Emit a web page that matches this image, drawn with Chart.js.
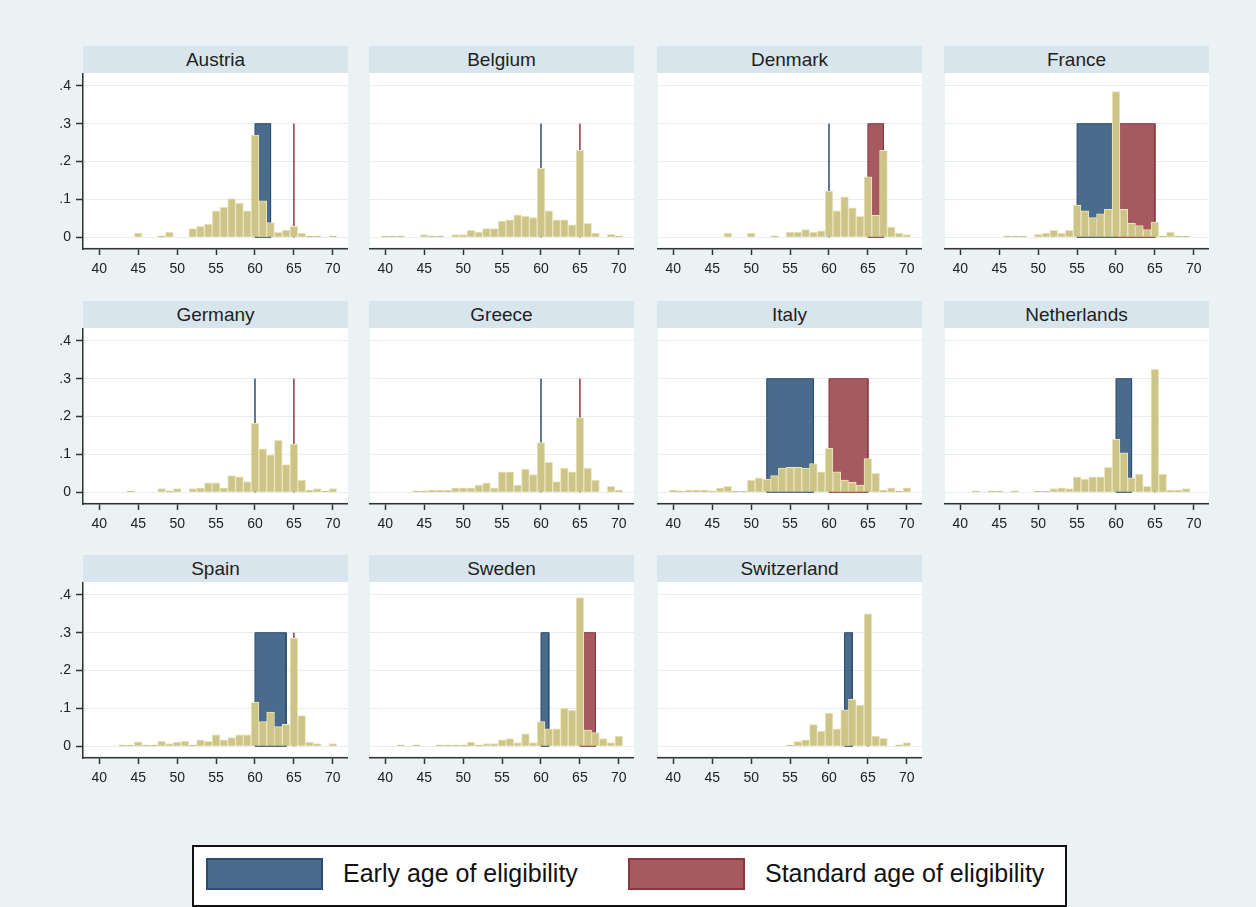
<!DOCTYPE html>
<html lang="en">
<head>
<meta charset="UTF-8">
<title>Retirement age distributions by country</title>
<script src="https://cdn.jsdelivr.net/npm/chart.js"></script>
<style>
  body { margin: 0; background: #ffffff; font-family: "Liberation Sans", Arial, sans-serif; }
  #fig { position: relative; width: 1256px; height: 907px; background: #eaf2f3; overflow: hidden; }
  .strip { position: absolute; width: 265px; height: 27px; line-height: 27px; background: #d9e5ec;
           text-align: center; font-size: 19px; color: #1e1e1e; }
  .panel { position: absolute; }
  #legend { position: absolute; left: 192px; top: 845px; width: 871px; height: 58px; background: #fff;
            border: 2px solid #111; }
  .swatch { position: absolute; top: 11px; width: 113px; height: 28px; border: 2px solid; }
  .ltext { position: absolute; top: 13px; font-size: 25px; line-height: 27px; color: #111; }
</style>
</head>
<body>
<div id="fig">
  <div id="legend">
    <div class="swatch" style="left:12px; background:#4a6b8c; border-color:#2b4d72;"></div>
    <div class="ltext" style="left:149px;">Early age of eligibility</div>
    <div class="swatch" style="left:434px; background:#a55a5f; border-color:#8c3640;"></div>
    <div class="ltext" style="left:571px;">Standard age of eligibility</div>
  </div>
</div>

<script>
// ages on the x axis (one bin per year)
const ages = [40, 41, 42, 43, 44, 45, 46, 47, 48, 49, 50, 51, 52, 53, 54, 55,
              56, 57, 58, 59, 60, 61, 62, 63, 64, 65, 66, 67, 68, 69, 70];
const xTicks = [40, 45, 50, 55, 60, 65, 70];
const yTicks = [0, 0.1, 0.2, 0.3, 0.4];
const yTickLabels = ['0', '.1', '.2', '.3', '.4'];

// density of retirement at each age, 40..70
const austria     = [0, 0, 0, 0, 0, .011, 0, 0, .004, .014, 0, 0, .023, .029, .035, .070,
                     .080, .102, .090, .070, .270, .096, .039, .013, .019, .029, .011, .004, .004, 0, .004];
const belgium     = [.004, .004, .004, 0, 0, .007, .004, .004, 0, .007, .007, .018, .014, .023, .023, .043,
                     .046, .059, .056, .052, .182, .070, .046, .046, .033, .230, .037, .011, 0, .008, .004];
const denmark     = [0, 0, 0, 0, 0, 0, 0, .011, 0, 0, .011, 0, 0, .004, 0, .014,
                     .014, .020, .014, .017, .122, .070, .107, .078, .055, .160, .058, .230, .027, .011, .007];
const france      = [0, 0, 0, 0, 0, 0, .004, .004, .004, 0, .008, .011, .018, .011, .018, .085,
                     .070, .052, .062, .074, .385, .074, .037, .031, .020, .040, .004, .014, .004, .004, 0];
const germany     = [0, 0, 0, 0, .004, 0, 0, 0, .010, .004, .010, 0, .010, .012, .025, .025,
                     .012, .044, .041, .028, .182, .115, .099, .137, .073, .127, .032, .006, .010, .004, .010];
const greece      = [0, 0, 0, 0, .004, .004, .006, .006, .006, .012, .012, .012, .019, .025, .012, .054,
                     .054, .019, .061, .047, .131, .079, .028, .064, .054, .197, .064, .032, 0, .016, .006];
const italy       = [.006, .003, .006, .006, .006, .003, .012, .016, .003, .003, .032, .038, .035, .044, .064, .066,
                     .066, .064, .076, .054, .116, .054, .032, .026, .019, .089, .050, .006, .012, .003, .012];
const netherlands = [0, 0, .004, 0, .004, .004, 0, .004, 0, 0, .003, .003, .010, .012, .010, .041,
                     .035, .041, .041, .066, .140, .104, .038, .048, .016, .325, .048, .006, .006, .010, 0];
const spain       = [0, 0, 0, .004, .004, .012, .004, .004, .014, .007, .011, .014, .004, .017, .013, .030,
                     .017, .023, .030, .030, .116, .065, .090, .052, .058, .286, .081, .011, .007, 0, .007];
const sweden      = [0, 0, .004, 0, .004, 0, 0, .004, .004, .004, .004, .011, .004, .007, .007, .017,
                     .020, .010, .033, .010, .065, .046, .046, .101, .095, .393, .043, .036, .020, .010, .027];
const switzerland = [0, 0, 0, 0, 0, 0, 0, 0, 0, 0, 0, 0, 0, 0, 0, .004,
                     .013, .017, .057, .040, .088, .046, .096, .124, .109, .350, .027, .021, 0, .004, .010];

const countries = ['Austria', 'Belgium', 'Denmark', 'France', 'Germany', 'Greece',
                   'Italy', 'Netherlands', 'Spain', 'Sweden', 'Switzerland'];
const series = [austria, belgium, denmark, france, germany, greece,
                italy, netherlands, spain, sweden, switzerland];

// eligibility windows (from, to); equal ends give a single line
const earlyFrom    = [60, 60, 60, 55, 60, 60, 52, 60, 60, 60, 62];
const earlyTo      = [62, 60, 60, 60, 60, 60, 58, 62, 64, 61, 63];
const standardFrom = [65, 65, 65, 60, 65, 65, 60, 65, 65, 65, 65];
const standardTo   = [65, 65, 67, 65, 65, 65, 65, 65, 65, 67, 65];
const windowTop = 0.3;

// panel grid
const colLeft = [83, 369, 657, 944];
const rowTop = [46, 301, 555];
const plotW = 265, stripH = 27, plotH = 176, xAxisH = 34, yAxisW = 43;

const plotBackground = {
  id: 'plotBackground',
  beforeDraw(chart) {
    const { ctx, chartArea: a } = chart;
    ctx.save();
    ctx.fillStyle = '#ffffff';
    ctx.fillRect(a.left + 1, a.top, a.right - a.left - 1, a.bottom - a.top - 2);
    ctx.restore();
  }
};

// closed outline of a window, filled as a shape
function windowPoints(from, to) {
  return [{ x: from, y: 0 }, { x: from, y: windowTop }, { x: to, y: windowTop }, { x: to, y: 0 }, { x: from, y: 0 }];
}

const fig = document.getElementById('fig');

countries.forEach((name, i) => {
  const col = i % 4, row = Math.floor(i / 4);
  const first = col === 0;
  const left = colLeft[col], top = rowTop[row];

  const strip = document.createElement('div');
  strip.className = 'strip';
  strip.style.left = left + 'px';
  strip.style.top = top + 'px';
  strip.textContent = name;
  fig.appendChild(strip);

  const yw = first ? yAxisW : 0;
  const canvas = document.createElement('canvas');
  canvas.className = 'panel';
  canvas.width = plotW + yw;
  canvas.height = plotH + xAxisH;
  canvas.style.left = (left - yw) + 'px';
  canvas.style.top = (top + stripH) + 'px';
  fig.appendChild(canvas);

  new Chart(canvas, {
    type: 'bar',
    data: {
      datasets: [
        {
          type: 'line',
          data: windowPoints(standardFrom[i], standardTo[i]),
          backgroundColor: '#a55a5f',
          borderColor: '#8c3640',
          borderWidth: 1,
          pointRadius: 0,
          fill: 'shape',
          order: 3
        },
        {
          type: 'line',
          data: windowPoints(earlyFrom[i], earlyTo[i]),
          backgroundColor: '#4a6b8c',
          borderColor: '#2b4d72',
          borderWidth: 1,
          pointRadius: 0,
          fill: 'shape',
          order: 2
        },
        {
          type: 'bar',
          data: ages.map((a, k) => ({ x: a, y: series[i][k] })),
          backgroundColor: '#cdc487',
          borderColor: '#ebe6bd',
          borderWidth: 1,
          barPercentage: 1,
          categoryPercentage: 1,
          order: 1
        }
      ]
    },
    options: {
      responsive: false,
      animation: false,
      devicePixelRatio: 1,
      layout: { padding: 0, autoPadding: false },
      plugins: { legend: { display: false }, tooltip: { enabled: false } },
      scales: {
        x: {
          type: 'linear',
          min: 37.9,
          max: 71.95,
          offset: false,
          afterBuildTicks: s => { s.ticks = xTicks.map(v => ({ value: v })); },
          afterFit: s => { s.height = xAxisH; s.paddingLeft = 0; s.paddingRight = 0; },
          grid: { drawOnChartArea: false, drawTicks: true, tickLength: 6, tickColor: '#333', tickWidth: 1.5, offset: false },
          border: { display: true, color: '#333', width: 1.5 },
          ticks: { color: '#222', font: { family: '"Liberation Sans", Arial, sans-serif', size: 14 }, padding: 6,
                   maxRotation: 0, autoSkip: false, callback: v => String(v) }
        },
        y: {
          type: 'linear',
          min: -0.031,
          max: 0.434,
          afterBuildTicks: s => { s.ticks = yTicks.map(v => ({ value: v })); },
          afterFit: s => { s.width = yw; s.paddingTop = 0; s.paddingBottom = 0; },
          grid: { color: '#e5edf0', lineWidth: 1, drawTicks: first, tickLength: 7, tickColor: '#333', tickWidth: 1.5 },
          border: { display: first, color: '#333', width: 1.5 },
          ticks: { display: first, color: '#222', font: { family: '"Liberation Sans", Arial, sans-serif', size: 14 },
                   padding: 5, callback: (v, k) => yTickLabels[k] }
        }
      }
    },
    plugins: [plotBackground]
  });
});
</script>
</body>
</html>
